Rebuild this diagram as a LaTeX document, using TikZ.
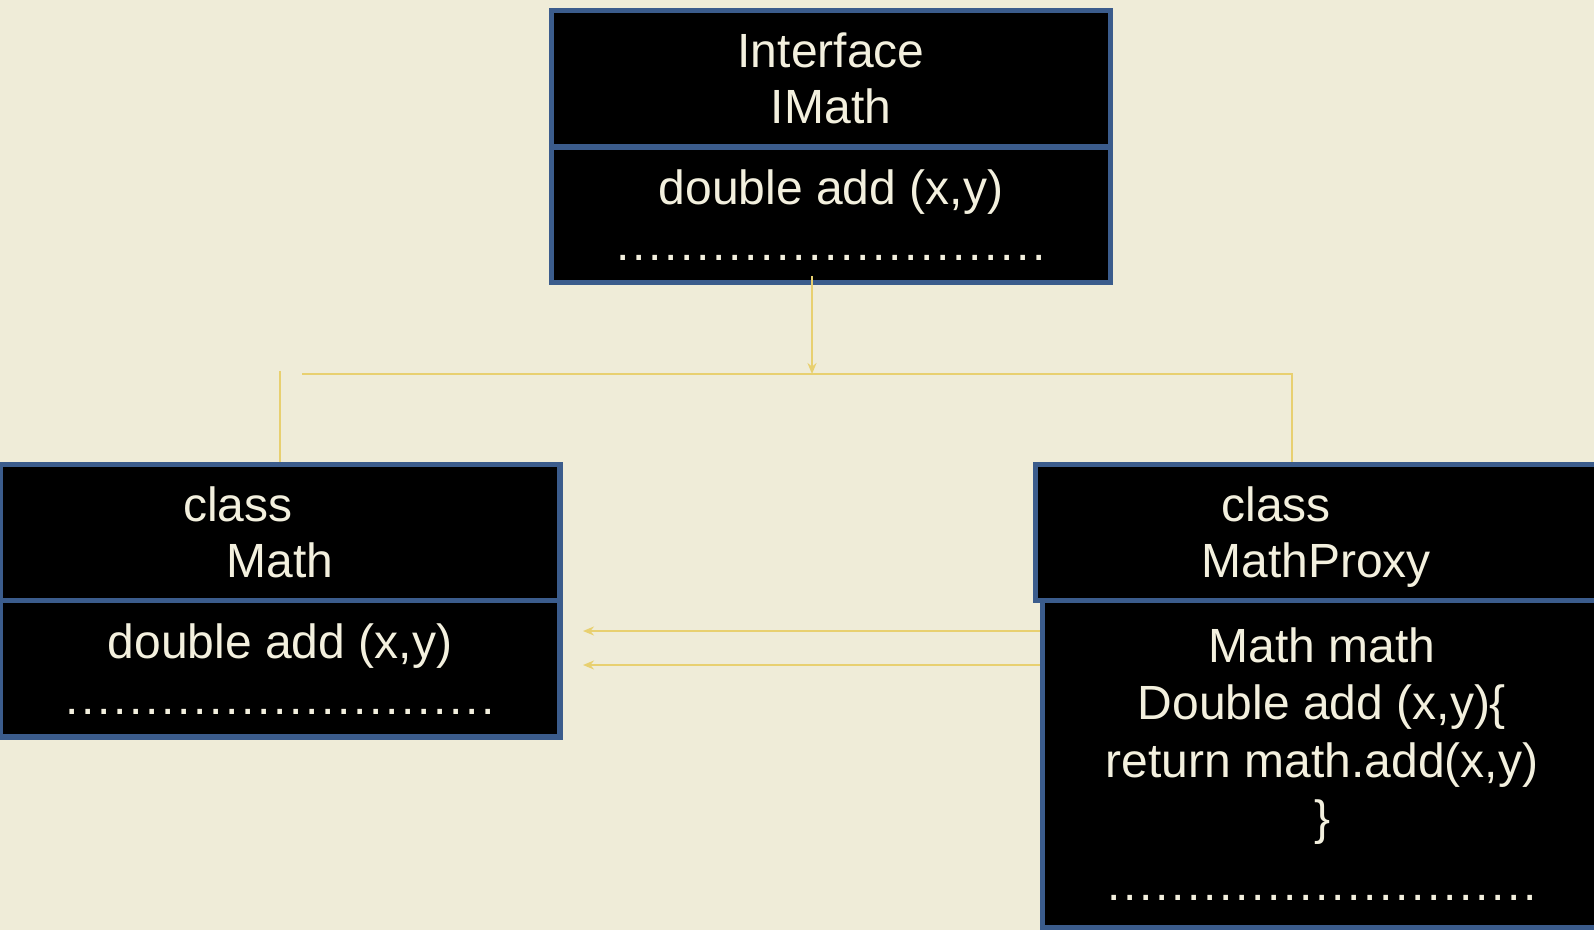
\documentclass[tikz,border=0pt]{standalone}
\usepackage{fontspec}
\setmainfont{Liberation Sans}
\usetikzlibrary{arrows.meta}
\definecolor{paper}{RGB}{239,236,216}
\definecolor{cream}{RGB}{243,240,222}
\definecolor{frame}{RGB}{59,92,140}
\definecolor{wire}{RGB}{232,208,112}
% row of dots closing each body box
\newcommand{\dotrow}{\hbox to 216pt{\cleaders\hbox to 8pt{\hss.\hss}\hfill}}
\tikzset{%
  >={Stealth[width=4.5pt,length=5.5pt]},
  % Specifications for style of nodes:
            umlbox/.style = {rectangle, draw=frame, fill=black,
                           line width=2.75pt, inner sep=0pt,
                           text=cream, align=center,
                           font=\fontsize{24}{28}\selectfont},
            headbox/.style = {umlbox, minimum height=68pt},
            wireline/.style = {draw=wire, line width=1pt}
}
\begin{document}
\begin{tikzpicture}[x=0.5pt, y=-0.5pt]
  \useasboundingbox (0,0) rectangle (1594,930);
  \fill[paper] (0,0) rectangle (1594,930);
  % Specification of nodes (position, etc.)
  \node (imathhead)   [headbox, minimum width=279.5pt] at (831,78.75) {Interface\\IMath};
  \node (imathbody)   [umlbox, minimum width=279.5pt, minimum height=67.75pt] at (831,214.75) {double add (x,y)\\\dotrow};
  \node (mathbody)    [umlbox, minimum width=280pt, minimum height=68.25pt] at (280,668.75) {double add (x,y)\\\dotrow};
  \node (mathhead)    [headbox, minimum width=280pt] at (280,532.5) {class\hspace*{42pt}\\Math};
  \node (proxybody)   [umlbox, minimum width=279.75pt, minimum height=163.5pt,
                       font=\fontsize{24}{28.75}\selectfont] at (1322,764)
                      {Math math\\Double add (x,y)\{\\return math.add(x,y)\\\}\\[4pt]\dotrow};
  \node (proxyhead)   [headbox, minimum width=280.75pt] at (1316.25,532.5) {class\hspace*{40pt}\\\smash{MathProxy}};
  % free ends of the connectors
  \coordinate (ifacetap) at (812,276);
  \coordinate (busmid)   at (812,374);
  \coordinate (busleft)  at (302,374);
  \coordinate (busright) at (1292,374);
  \coordinate (mathtap)  at (280,371);
  \coordinate (calltop)  at (583,631);
  \coordinate (callbot)  at (583,665);
  \draw[wireline, ->]     (ifacetap) -- (busmid);
  \draw[wireline]         (busleft) -- (busright) -- (busright |- proxyhead.north);
  \draw[wireline]         (mathtap) -- (mathhead.north);
  \draw[wireline, ->]     (proxybody.west |- calltop) -- (calltop);
  \draw[wireline, ->]     (proxybody.west |- callbot) -- (callbot);
\end{tikzpicture}
\end{document}
